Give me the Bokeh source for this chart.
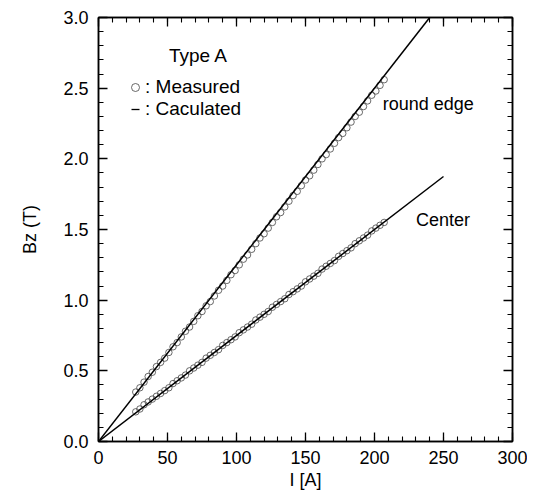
from bokeh.plotting import figure
from bokeh.models import (LinearAxis, SingleIntervalTicker, PrintfTickFormatter,
                          Label, Legend, LegendItem, Range1d)
from bokeh.embed import file_html
from bokeh.resources import INLINE

# ---- data ----
I_meas = [27, 30, 33, 36, 39, 42, 45, 48, 51, 54, 57, 60, 63, 66, 69, 72, 75, 78, 81, 84,
          87, 90, 93, 96, 99, 102, 105, 108, 111, 114, 117, 120, 123, 126, 129, 132, 135,
          138, 141, 144, 147, 150, 153, 156, 159, 162, 165, 168, 171, 174, 177, 180, 183,
          186, 189, 192, 195, 198, 201, 204, 207]
B_edge_meas = [0.35, 0.38, 0.42, 0.46, 0.49, 0.53, 0.56, 0.59, 0.63, 0.67, 0.70, 0.74, 0.78,
               0.81, 0.85, 0.89, 0.92, 0.96, 0.99, 1.03, 1.07, 1.10, 1.14, 1.18, 1.21, 1.25,
               1.29, 1.32, 1.36, 1.40, 1.44, 1.47, 1.51, 1.55, 1.59, 1.62, 1.66, 1.70, 1.74,
               1.77, 1.81, 1.85, 1.88, 1.92, 1.96, 2.00, 2.03, 2.07, 2.11, 2.15, 2.18, 2.22,
               2.26, 2.30, 2.33, 2.37, 2.41, 2.45, 2.48, 2.52, 2.56]
B_center_meas = [0.21, 0.23, 0.26, 0.28, 0.30, 0.32, 0.34, 0.36, 0.38, 0.41, 0.43, 0.45, 0.47,
                 0.50, 0.52, 0.54, 0.56, 0.59, 0.61, 0.63, 0.65, 0.68, 0.70, 0.72, 0.74, 0.77,
                 0.79, 0.81, 0.83, 0.86, 0.88, 0.90, 0.92, 0.95, 0.97, 0.99, 1.01, 1.04, 1.06,
                 1.08, 1.10, 1.13, 1.15, 1.17, 1.19, 1.22, 1.24, 1.26, 1.28, 1.31, 1.33, 1.35,
                 1.37, 1.40, 1.42, 1.44, 1.46, 1.49, 1.51, 1.53, 1.55]
I_calc_edge = [0, 240]
B_calc_edge = [0.0, 3.0]
I_calc_center = [0, 250]
B_calc_center = [0.0, 1.875]

FONT = "Liberation Sans"

p = figure(width=527, height=492, x_range=Range1d(0, 300), y_range=Range1d(0, 3.0),
           output_backend="svg", toolbar_location=None,
           min_border_left=98, min_border_right=15, min_border_top=17, min_border_bottom=51,
           x_axis_label="I [A]", y_axis_label="Bz (T)")
p.grid.visible = False
p.outline_line_color = "black"
p.outline_line_width = 1.5
p.background_fill_color = "white"
p.border_fill_color = "white"

# measured circles
r_meas1 = p.scatter(I_meas, B_edge_meas, marker="circle", size=6.5, fill_color=None,
                    line_color="#444444", line_width=0.8)
r_meas2 = p.scatter(I_meas, B_center_meas, marker="circle", size=6.5, fill_color=None,
                    line_color="#444444", line_width=0.8)

# lines (calculated)
p.line(I_calc_edge, B_calc_edge, line_color="black", line_width=1.5)
p.line(I_calc_center, B_calc_center, line_color="black", line_width=1.5)

# invisible dash-marker renderer only used as legend symbol for "Caculated"
r_dash = p.scatter(I_calc_edge, B_calc_edge, marker="dash", size=8, line_color="black",
                   line_width=1.3, visible=False)


def style_axis(ax, show_labels=True):
    ax.axis_line_width = 1.5
    ax.major_tick_in = 9
    ax.major_tick_out = 0
    ax.minor_tick_in = 5
    ax.minor_tick_out = 0
    ax.major_tick_line_width = 1.3
    ax.minor_tick_line_width = 1.1
    ax.major_label_text_font = FONT
    ax.axis_label_text_font = FONT
    ax.axis_label_text_font_style = "normal"
    ax.axis_label_text_color = "black"
    if show_labels:
        ax.major_label_text_color = "black"
        ax.major_label_text_font_size = "18px"
        ax.axis_label_text_font_size = "18px"
    else:
        ax.major_label_text_color = None
        ax.major_label_text_font_size = "1px"
        ax.major_label_standoff = 0


xt = SingleIntervalTicker(interval=50, num_minor_ticks=5)
yt = SingleIntervalTicker(interval=0.5, num_minor_ticks=5)
p.xaxis[0].ticker = xt
p.yaxis[0].ticker = yt
p.yaxis[0].formatter = PrintfTickFormatter(format="%.1f")
style_axis(p.xaxis[0])
style_axis(p.yaxis[0])
p.xaxis[0].major_label_standoff = 9
p.xaxis[0].axis_label_standoff = 3
p.yaxis[0].major_label_standoff = 10
p.yaxis[0].axis_label_standoff = 20

top = LinearAxis(ticker=SingleIntervalTicker(interval=50, num_minor_ticks=5))
style_axis(top, show_labels=False)
p.add_layout(top, "above")
right = LinearAxis(ticker=SingleIntervalTicker(interval=0.5, num_minor_ticks=5))
style_axis(right, show_labels=False)
p.add_layout(right, "right")

# annotations
p.add_layout(Label(x=51, y=2.73, text="Type A", text_font=FONT, text_font_size="19px",
                   text_baseline="middle", text_color="black"))
p.add_layout(Label(x=206, y=2.39, text="round edge", text_font=FONT, text_font_size="18px",
                   text_baseline="middle", text_color="black"))
p.add_layout(Label(x=230, y=1.57, text="Center", text_font=FONT, text_font_size="18px",
                   text_baseline="middle", text_color="black"))

legend = Legend(items=[LegendItem(label=": Measured", renderers=[r_meas1]),
                       LegendItem(label=": Caculated", renderers=[r_dash])],
                location=(27, 321), glyph_width=20, glyph_height=20, label_height=20,
                label_standoff=0, spacing=0, padding=0, margin=0,
                border_line_color=None, background_fill_alpha=0,
                label_text_font=FONT, label_text_font_size="19px",
                label_text_color="black")
p.add_layout(legend)

open("out.html", "w").write(file_html(p, INLINE))
